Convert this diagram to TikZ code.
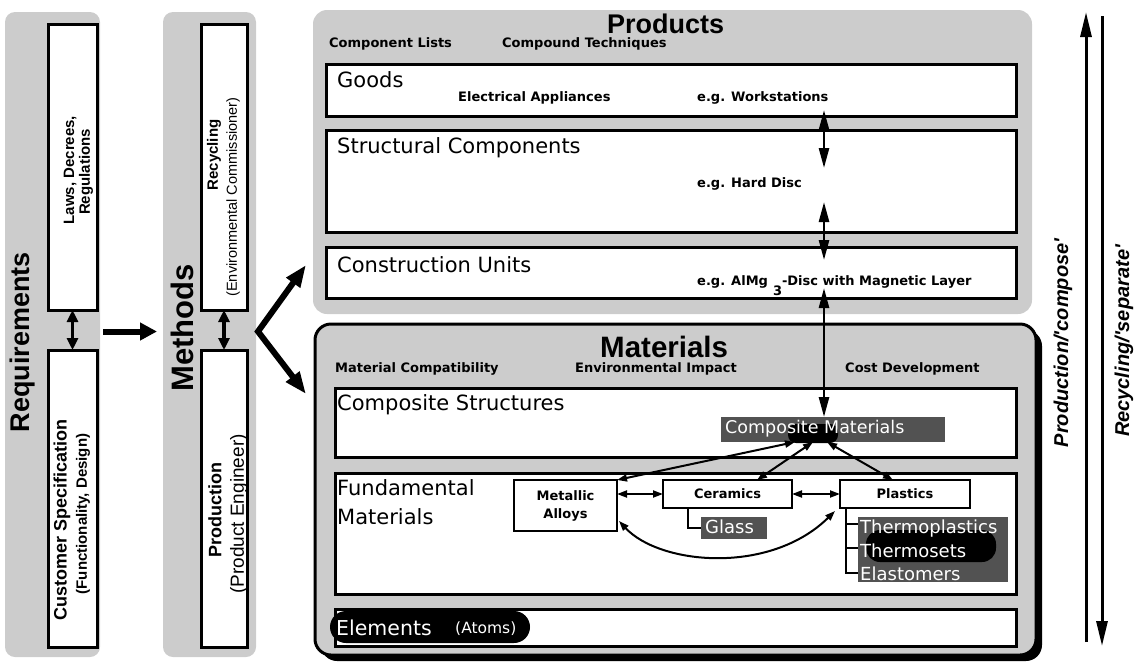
\documentclass[tikz,border=0pt]{standalone}
\usepackage{fontspec}
\setmainfont{DejaVu Sans}
\newfontfamily\lib{Liberation Sans}
\usetikzlibrary{arrows.meta,calc}
\definecolor{dotlight}{gray}{0.80}
\definecolor{dotdark}{gray}{0.32}
\newcommand\fs[1]{\fontsize{#1}{#1}\selectfont}
\begin{document}
\begin{tikzpicture}[x=1pt,y=-1pt,
  panel/.style={fill=dotlight, draw=none, rounded corners=10pt, anchor=north west, inner sep=0pt, outer sep=0pt},
  box/.style={draw, line width=3pt, fill=white, anchor=north west, inner sep=0pt, outer sep=0pt},
  matbox/.style={draw, line width=3pt, fill=dotlight, rounded corners=16pt, anchor=north west, inner sep=0pt, outer sep=0pt},
  sbox/.style={draw, line width=2.2pt, fill=white, anchor=north west, inner sep=0pt, outer sep=0pt, align=center, font=\fontsize{13}{18}\selectfont\bfseries},
  dbox/.style={fill=dotdark, anchor=north west, inner sep=0pt, outer sep=0pt},
  ttl/.style={anchor=base west, inner sep=0pt, font=\fs{21}},
  lbl/.style={anchor=base west, inner sep=0pt, font=\fs{13}\bfseries},
  big/.style={anchor=base west, inner sep=0pt, font=\lib\bfseries\fs{27}},
  vtx/.style={rotate=90, inner sep=0pt, anchor=center},
  wtxt/.style={anchor=base west, inner sep=0pt, text=white, font=\fs{18}},
  sdbl/.style={line width=2pt, {Triangle[length=10pt,width=7pt]}-{Triangle[length=10pt,width=7pt]}},
  vdbl/.style={line width=2.6pt, {Triangle[length=20pt,width=10pt]}-{Triangle[length=20pt,width=10pt]}},
  ldbl/.style={line width=3.5pt, {Triangle[length=12pt,width=11pt]}-{Triangle[length=12pt,width=11pt]}},
  bigarr/.style={line width=6pt, -{Triangle[length=17pt,width=17pt]}},
  varr/.style={line width=6pt, line join=miter, {Triangle[length=22pt,width=16pt]}-{Triangle[length=22pt,width=16pt]}},
  rarr/.style={line width=3pt, -{Triangle[length=25pt,width=11pt]}},
  tree/.style={line width=2pt}
]
\useasboundingbox (0,0) rectangle (1138,665);
% panels
\node[panel, minimum width=95pt, minimum height=645pt] (reqp) at (5,12) {};
\node[panel, minimum width=93pt, minimum height=645pt] (methp) at (163,12) {};
\node[panel, rounded corners=14pt, minimum width=719pt, minimum height=304pt] (prodp) at (313,10) {};
% left boxes
\node[box, minimum width=49pt, minimum height=286pt] (laws) at (48,24) {};
\node[box, minimum width=49pt, minimum height=297pt] (cust) at (48,350) {};
\node[box, minimum width=46pt, minimum height=286pt] (recy) at (201,24) {};
\node[box, minimum width=46pt, minimum height=297pt] (prodn) at (201,350) {};
% products boxes
\node[box, minimum width=690pt, minimum height=52pt] (goods) at (326,64) {};
\node[box, minimum width=690pt, minimum height=102pt] (struct) at (326,130) {};
\node[box, minimum width=690pt, minimum height=51pt] (constr) at (326,247) {};
% materials
\fill[black, rounded corners=16pt] (321,330) rectangle (1042,661);
\node[matbox, minimum width=721pt, minimum height=331pt] (matp) at (315,324) {};
\node[box, minimum width=681pt, minimum height=69pt] (comps) at (335,388) {};
\node[box, minimum width=681pt, minimum height=121pt] (fund) at (335,473) {};
\node[box, minimum width=681pt, minimum height=37pt] (elem) at (335,609) {};
\node[sbox, minimum width=103pt, minimum height=51pt] (metal) at (514,480) {Metallic\\Alloys};
\node[sbox, minimum width=129pt, minimum height=28pt] (ceram) at (663,480) {Ceramics};
\node[sbox, minimum width=130pt, minimum height=28pt] (plast) at (840,480) {Plastics};
% dark boxes
\node[dbox, minimum width=224pt, minimum height=25pt] (cmat) at (721,417) {};
\fill[black, rounded corners=8pt] (788,424) rectangle (838,443);
\node[wtxt, font=\fs{17.5}] (cmatt) at (725,433) {Composite Materials};
\node[dbox, minimum width=66pt, minimum height=22pt] (glass) at (701,517) {};
\node[wtxt] (glasst) at (705,533) {Glass};
\node[dbox, minimum width=150pt, minimum height=65pt] (therm) at (858,517) {};
\fill[black, rounded corners=14pt] (866,530) rectangle (996,562);
\node[wtxt] (tp) at (860,533) {Thermoplastics};
\node[wtxt] (ts) at (860,557) {Thermosets};
\node[wtxt] (te) at (860,580) {Elastomers};
% elements blob
\fill[black, rounded corners=16pt] (330,611) rectangle (530,643);
\node[wtxt, font=\fs{20.5}] (elt) at (336,635) {Elements};
\node[wtxt, font=\fs{15.5}] (atoms) at (455,633) {(Atoms)};
% tree and glass connectors
\draw[tree] ($(ceram.south west)+(25,0)$) |- (glass.west);
\draw[tree] ($(plast.south west)+(6,0)$) |- ($(therm.south west)+(0,-9)$);
\draw[tree] ($(therm.north west)+(-12,7)$) -- ($(therm.north west)+(0,7)$);
\draw[tree] ($(therm.north west)+(-12,31)$) -- ($(therm.north west)+(0,31)$);
% material arrows
\draw[sdbl] (metal.east |- ceram.west) -- (ceram.west);
\draw[sdbl] (ceram.east) -- (plast.west);
\draw[sdbl] (metal.north east) -- ($(cmat.south west)+(74,0)$);
\draw[sdbl] ($(ceram.north west)+(94,0)$) -- ($(cmat.south west)+(92,0)$);
\draw[sdbl] ($(plast.north west)+(53,0)$) -- ($(cmat.south west)+(106,0)$);
\draw[sdbl] ($(metal.south east)+(2,-10)$) .. controls (660,565) and (770,575) .. ($(plast.south west)+(-5,3)$);
% vertical center arrows
\draw[vdbl] ($(goods.south west)+(498,-6)$) -- ($(struct.north west)+(498,38)$);
\draw[vdbl] ($(struct.north west)+(498,72)$) -- ($(struct.south west)+(498,28)$);
\draw[vdbl] ($(constr.north west)+(498,41)$) -- ($(cmat.north west)+(103,0)$);
% left arrows
\draw[ldbl] (laws.south) -- (cust.north);
\draw[ldbl] (recy.south) -- (prodn.north);
\draw[bigarr] ($(reqp.east)+(3,-3)$) -- ($(methp.west)+(-6,-3)$);
\coordinate (vtx) at ($(methp.east)+(2,-3)$);
\coordinate (vup) at (306,265);
\coordinate (vdn) at (306,394);
\draw[varr] (vup) -- (vtx) -- (vdn);
% right arrows
\coordinate (pu1) at (1086,642); \coordinate (pu2) at (1086,12);
\draw[rarr] (pu1) -- (pu2);
\coordinate (rd1) at (1102,16); \coordinate (rd2) at (1102,646);
\draw[rarr] (rd1) -- (rd2);
\node[vtx, font=\lib\bfseries\itshape\fs{20}] (pc) at (1063,343) {Production/'compose'};
\node[vtx, font=\lib\bfseries\itshape\fs{20}] (rs) at (1124,341) {Recycling/'separate'};
% left texts
\node[vtx, font=\lib\bfseries\fs{27}] (reqt) at (23,342) {Requirements};
\node[vtx, font=\lib\bfseries\fs{31}] (metht) at (182,328) {Methods};
\node[vtx, font=\lib\bfseries\fs{15}] (l1) at (70,170) {Laws, Decrees,};
\node[vtx, font=\lib\bfseries\fs{15}] (l2) at (86,172) {Regulations};
\node[vtx, font=\lib\bfseries\fs{18}] (c1) at (62,520) {Customer Specification};
\node[vtx, font=\lib\bfseries\fs{15}] (c2) at (83,514) {(Functionality, Design)};
\node[vtx, font=\lib\bfseries\fs{15}] (r1) at (214,155) {Recycling};
\node[vtx, font=\lib\fs{14.5}] (r2) at (233,197) {(Environmental Commissioner)};
\node[vtx, font=\lib\bfseries\fs{18}] (p1) at (215,510) {Production};
\node[vtx, font=\lib\fs{19}] (p2) at (239,514) {(Product Engineer)};
% titles
\node[big] (prodt) at (607,33) {Products};
\node[big, font=\lib\bfseries\fs{29.5}] (matt) at (600,357) {Materials};
% labels
\node[lbl] (cl) at (329,47) {Component Lists};
\node[lbl] (ct) at (502,47) {Compound Techniques};
\node[lbl] (ea) at (458,101) {Electrical Appliances};
\node[lbl] (ws) at (697,101) {e.g. Workstations};
\node[lbl] (hd) at (697,187) {e.g. Hard Disc};
\node[lbl] (al) at (697,285) {e.g. AlMg\hspace{5pt}\raisebox{-10pt}{3}-Disc with Magnetic Layer};
\node[lbl] (mc) at (335,372) {Material Compatibility};
\node[lbl] (ei) at (575,372) {Environmental Impact};
\node[lbl] (cd) at (845,372) {Cost Development};
% box titles
\node[ttl] (gt) at (337,87) {Goods};
\node[ttl] (st) at (337,153) {Structural Components};
\node[ttl] (cut) at (337,272) {Construction Units};
\node[ttl] (cst) at (337,410) {Composite Structures};
\node[ttl] (ft) at (337,495) {Fundamental};
\node[ttl] (fm) at (337,524) {Materials};
\end{tikzpicture}
\end{document}
